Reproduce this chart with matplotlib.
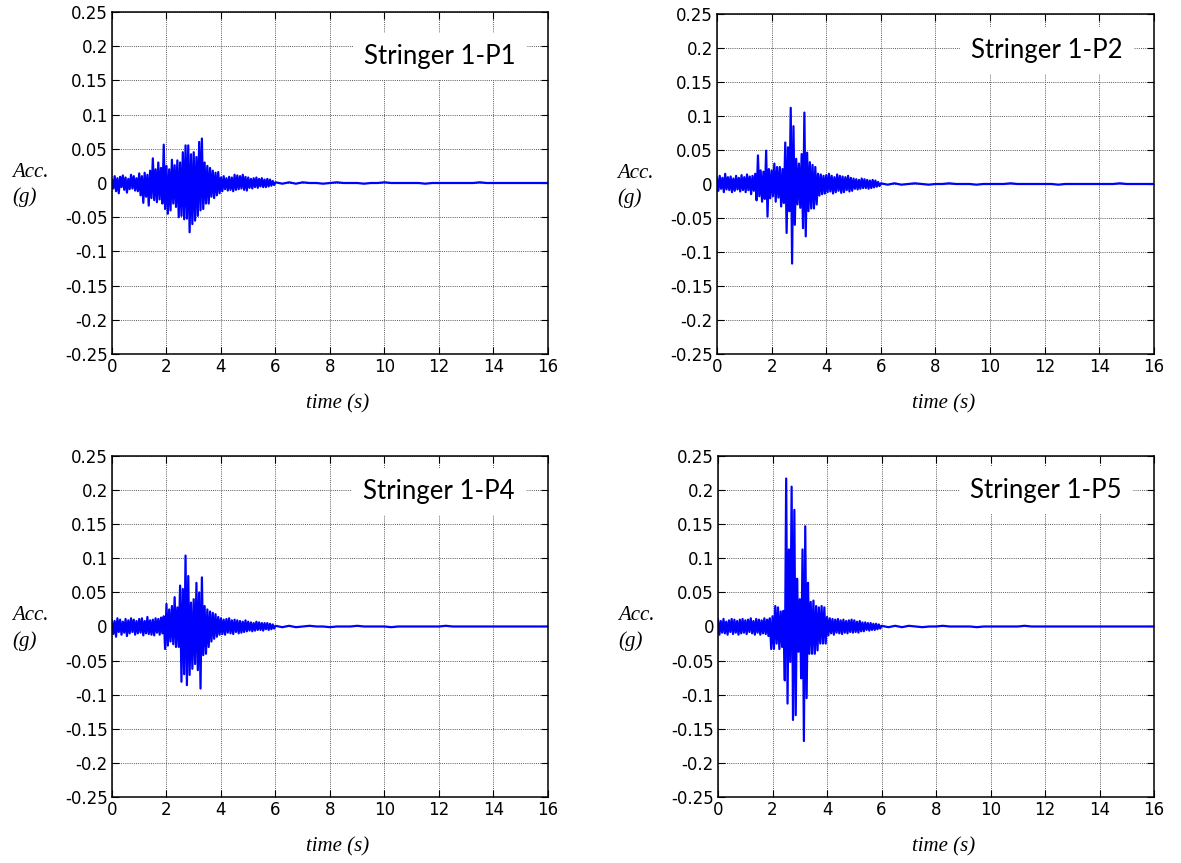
import numpy as np
import matplotlib.pyplot as plt
from matplotlib.ticker import FuncFormatter

plt.rcParams['axes.unicode_minus'] = False

# peak accelerations in milli-g, sampled every 0.05 s over the first 6 s
p1_burst = [5, -8, 10, -12, 7, -15, 9, -6, 11, -10, 8, -14, 6, -9, 12, -8, 10, -11, 7, -12,
            14, -18, 10, -29, 15, -20, 12, -33, 18, -22,
            36, -25, 20, -28, 30, -24, 22, -30, 56, -38,
            25, -45, 20, -40, 34, -30, 26, -35, 33, -50,
            30, -48, 45, -53, 55, -52, 55, -72, 42, -60,
            45, -55, 38, -48, 60, -40, 65, -38, 30, -30,
            25, -30, 22, -20, 18, -22, 15, -18, 16, -15,
            8, -12, 10, -9, 7, -11, 9, -10, 8, -12, 12, -10, 11, -9, 10, -8, 12, -10, 9, -11,
            8, -7, 6, -8, 7, -6, 8, -7, 6, -5, 7, -6, 5, -6, 6, -5, 5, -4, 3, -3]
p2_burst = [8, -10, 12, -7, 9, -12, 15, -8, 10, -9, 11, -12, 8, -10, 12, -8, 9, -11, 13, -9,
            10, -12, 14, -9, 11, -15, 12, -10, 15, -24,
            42, -18, 20, -26, 18, -22, 49, -48, 22, -21,
            20, -18, 30, -26, 25, -20, 25, -33, 22, -28,
            61, -72, 54, -40, 112, -117, 85, -60, 37, -30,
            30, -35, 44, -65, 105, -77, 46, -40, 32, -36,
            28, -36, 25, -30, 15, -17, 14, -15, 12, -14,
            13, -12, 15, -11, 12, -14, 10, -12, 14, -10, 12, -13, 11, -12, 10, -9, 12, -11, 9, -10,
            8, -7, 7, -8, 6, -7, 8, -6, 7, -6, 6, -7, 5, -6, 6, -5, 5, -4, 3, -3]
p4_burst = [9, -11, 8, -15, 12, -8, 10, -12, 7, -9, 11, -14, 9, -10, 12, -8, 10, -12, 8, -10,
            11, -9, 12, -13, 8, -10, 14, -11, 9, -12,
            10, -13, 12, -9, 11, -12, 13, -10, 15, -33,
            33, -28, 25, -22, 30, -26, 43, -30, 28, -30,
            60, -81, 55, -70, 104, -86, 74, -71, 35, -62,
            40, -55, 64, -64, 50, -91, 72, -42, 30, -40,
            25, -30, 22, -22, 20, -18, 18, -15, 14, -12,
            12, -11, 10, -12, 11, -9, 12, -10, 9, -11, 10, -8, 9, -10, 8, -9, 7, -8, 9, -7,
            7, -6, 6, -7, 5, -6, 7, -5, 6, -5, 5, -6, 5, -4, 5, -5, 4, -4, 3, -3]
p5_burst = [10, -12, 8, -9, 11, -10, 7, -12, 9, -8, 11, -11, 10, -9, 8, -12, 10, -10, 11, -9,
            9, -11, 10, -8, 12, -10, 8, -12, 11, -9,
            10, -12, 9, -10, 12, -11, 10, -14, 12, -33,
            15, -33, 30, -25, 28, -33, 22, -30, 23, -79,
            217, -113, 113, -52, 205, -137, 171, -130, 70, -37,
            40, -76, 113, -168, 147, -105, 64, -40, 36, -40,
            38, -40, 30, -35, 28, -25, 30, -25, 28, -25,
            14, -13, 12, -10, 11, -12, 10, -9, 11, -10, 9, -11, 10, -9, 8, -10, 9, -8, 10, -9,
            9, -8, 7, -9, 8, -7, 6, -7, 6, -5, 5, -6, 5, -5, 4, -5, 4, -4, 3, -3]

# free decay, every 0.25 s from 6 s to 16 s
p1_tail = [1, -1, 1, -1, 1, 0, 0, -1, 0, 1, 0, 0, 0, -1, 0, 0, 1, 0, 0, 0,
           0, 0, -1, 0, 0, 0, 0, 0, 0, 0, 1, 0, 0, 0, 0, 0, 0, 0, 0, 0, 0]
p2_tail = [1, -1, 1, -1, 0, 1, 0, -1, 0, 0, 1, 0, 0, 0, -1, 0, 0, 0, 0, 1,
           0, 0, 0, 0, 0, 0, -1, 0, 0, 0, 0, 0, 0, 0, 0, 1, 0, 0, 0, 0, 0]
p4_tail = [1, -1, 1, -1, 0, 1, 0, 0, -1, 0, 0, 0, 1, 0, 0, 0, 0, -1, 0, 0,
           0, 0, 0, 0, 0, 1, 0, 0, 0, 0, 0, 0, 0, 0, 0, 0, 0, 0, 0, 0, 0]
p5_tail = [1, -1, 1, -1, 1, 0, -1, 0, 0, 1, 0, 0, 0, 0, -1, 0, 0, 0, 0, 0,
           0, 1, 0, 0, 0, 0, 0, 0, 0, 0, 0, 0, 0, 0, 0, 0, 0, 0, 0, 0, 0]

titles = ['Stringer 1-P1', 'Stringer 1-P2', 'Stringer 1-P4', 'Stringer 1-P5']
bursts = [p1_burst, p2_burst, p4_burst, p5_burst]
tails = [p1_tail, p2_tail, p4_tail, p5_tail]

x_ticks = [0, 2, 4, 6, 8, 10, 12, 14, 16]
y_ticks = [-0.25, -0.2, -0.15, -0.1, -0.05, 0, 0.05, 0.1, 0.15, 0.2, 0.25]

dt_burst = 0.05
dt_tail = 0.25

fig = plt.figure(figsize=(11.81, 8.63), dpi=100)
rects = [[0.0948, 0.5898, 0.3692, 0.3963],
         [0.6071, 0.5898, 0.3700, 0.3940],
         [0.0948, 0.0765, 0.3692, 0.3951],
         [0.6080, 0.0765, 0.3692, 0.3951]]
title_pos = [(0.752, 0.871), (0.755, 0.892), (0.750, 0.895), (0.752, 0.900)]

for rect, title, burst, tail, tpos in zip(rects, titles, bursts, tails, title_pos):
    ax = fig.add_axes(rect)
    t = np.concatenate([np.arange(len(burst)) * dt_burst,
                        6 + np.arange(len(tail)) * dt_tail])
    acc = np.concatenate([burst, tail]) / 1000.0
    ax.plot(t, acc, color='#0000ff', lw=1.6)

    ax.set_xlim(0, 16)
    ax.set_ylim(-0.25, 0.25)
    ax.set_xticks(x_ticks)
    ax.set_yticks(y_ticks)
    ax.yaxis.set_major_formatter(FuncFormatter(lambda v, p: '%g' % round(v, 2)))
    ax.tick_params(direction='in', length=5, width=0.8, top=True, right=True,
                   labelsize=12, pad=3)
    for lab in ax.get_xticklabels() + ax.get_yticklabels():
        lab.set_family('DejaVu Sans')
    for sp in ax.spines.values():
        sp.set_linewidth(1.1)
    ax.grid(True, color='0.35', linestyle=(0, (1, 1.2)), lw=0.7)
    ax.set_axisbelow(True)

    ax.text(tpos[0], tpos[1], title, transform=ax.transAxes, ha='center', va='center',
            family='Lato', fontsize=18.5,
            bbox=dict(fc='white', ec='none', pad=8), zorder=5)
    ax.text(-0.229, 0.494, 'Acc.\n(g)', transform=ax.transAxes, ha='left', va='center',
            family='Liberation Serif', style='italic', fontsize=15, linespacing=1.4)
    ax.text(0.518, -0.146, 'time (s)', transform=ax.transAxes, ha='center', va='center',
            family='Liberation Serif', style='italic', fontsize=15)

fig.savefig('out.png', dpi=100)
